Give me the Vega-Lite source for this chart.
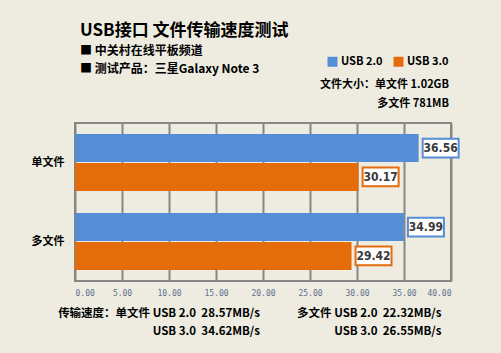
{
  "$schema": "https://vega.github.io/schema/vega-lite/v6.json",
  "width": 376,
  "height": 158,
  "autosize": "none",
  "padding": {"left": 75, "top": 123, "right": 50, "bottom": 72},
  "background": "#EEECE1",
  "title": {
    "text": "USB接口 文件传输速度测试",
    "subtitle": ["■ 中关村在线平板频道", "■ 测试产品：三星Galaxy Note 3"],
    "anchor": "start",
    "frame": "group",
    "dx": 5,
    "offset": -20,
    "font": "Noto Sans CJK SC",
    "fontSize": 17,
    "fontWeight": "bold",
    "color": "#000000",
    "subtitleFont": "Noto Sans CJK SC",
    "subtitleFontSize": 12,
    "subtitleFontWeight": "bold",
    "subtitleColor": "#000000",
    "subtitleLineHeight": 18,
    "subtitlePadding": 6
  },
  "data": {
    "values": [
      {"type": "单文件", "usb": "USB 2.0", "speed": 36.56},
      {"type": "单文件", "usb": "USB 3.0", "speed": 30.17},
      {"type": "多文件", "usb": "USB 2.0", "speed": 34.99},
      {"type": "多文件", "usb": "USB 3.0", "speed": 29.42}
    ]
  },
  "encoding": {
    "y": {
      "field": "type",
      "type": "nominal",
      "sort": ["单文件", "多文件"],
      "scale": {"paddingInner": 0.28, "paddingOuter": 0.14},
      "axis": {
        "title": null,
        "domain": false,
        "ticks": false,
        "grid": false,
        "labelPadding": 11,
        "labelFont": "Noto Sans CJK SC",
        "labelFontWeight": "bold",
        "labelFontSize": 11,
        "labelColor": "#000000"
      }
    },
    "yOffset": {
      "field": "usb",
      "type": "nominal",
      "sort": ["USB 2.0", "USB 3.0"],
      "scale": {"paddingInner": 0.03}
    },
    "x": {
      "field": "speed",
      "type": "quantitative",
      "scale": {"domain": [0, 40], "nice": false},
      "axis": {
        "values": [0, 5, 10, 15, 20, 25, 30, 35, 40],
        "format": ".2f",
        "grid": true,
        "gridColor": "#868686",
        "gridWidth": 2,
        "gridOpacity": 1,
        "domain": false,
        "ticks": false,
        "labelFont": "DejaVu Sans Mono",
        "labelFontSize": 8,
        "labelColor": "#5E6F8E",
        "labelPadding": 8,
        "title": [
          "传输速度：单文件 USB 2.0 \u00a028.57MB/s\u3000\u3000\u3000 多文件 USB 2.0 \u00a022.32MB/s",
          "USB 3.0 \u00a034.62MB/s\u3000\u3000\u3000 \u3000\u3000\u3000 USB 3.0 \u00a026.55MB/s"
        ],
        "titleAnchor": "end",
        "titleAlign": "right",
        "titleX": 366,
        "titleY": 26,
        "titleBaseline": "top",
        "titleFont": "Noto Sans CJK SC",
        "titleFontSize": 11.5,
        "titleFontWeight": "bold",
        "titleLineHeight": 18,
        "titleColor": "#000000"
      }
    }
  },
  "layer": [
    {
      "mark": {"type": "bar"},
      "encoding": {
        "color": {
          "field": "usb",
          "type": "nominal",
          "scale": {"domain": ["USB 2.0", "USB 3.0"], "range": ["#558ED5", "#E46C0A"]},
          "legend": {
            "orient": "none",
            "legendX": 245,
            "legendY": -67,
            "direction": "horizontal",
            "title": ["文件大小：单文件 1.02GB", "多文件 781MB"],
            "titleOrient": "bottom",
            "titleAnchor": "end",
            "titleAlign": "right",
            "titleFont": "Noto Sans CJK SC",
            "titleFontSize": 11,
            "titleFontWeight": "bold",
            "titleColor": "#000000",
            "titleLineHeight": 19,
            "titlePadding": 12,
            "symbolType": "square",
            "symbolSize": 100,
            "symbolStrokeWidth": 0,
            "symbolOpacity": 1,
            "labelFont": "Noto Sans CJK SC",
            "labelFontSize": 11,
            "labelFontWeight": "bold",
            "labelColor": "#000000",
            "labelOffset": 3,
            "columnPadding": 10,
            "padding": 0
          }
        }
      }
    },
    {
      "mark": {
        "type": "point",
        "shape": "M-1,-0.52H1V0.52H-1Z",
        "size": 1296,
        "filled": true,
        "fill": "#FFFFFF",
        "opacity": 1,
        "strokeWidth": 2,
        "xOffset": 22
      },
      "encoding": {
        "stroke": {
          "field": "usb",
          "type": "nominal",
          "scale": {"domain": ["USB 2.0", "USB 3.0"], "range": ["#558ED5", "#E46C0A"]},
          "legend": null
        }
      }
    },
    {
      "mark": {
        "type": "text",
        "xOffset": 22,
        "font": "DejaVu Sans Condensed",
        "fontWeight": "bold",
        "fontSize": 12,
        "color": "#3A3A3A"
      },
      "encoding": {
        "text": {"field": "speed", "type": "quantitative", "format": ".2f"}
      }
    }
  ],
  "config": {
    "view": {"stroke": "#868686", "strokeWidth": 2}
  }
}
